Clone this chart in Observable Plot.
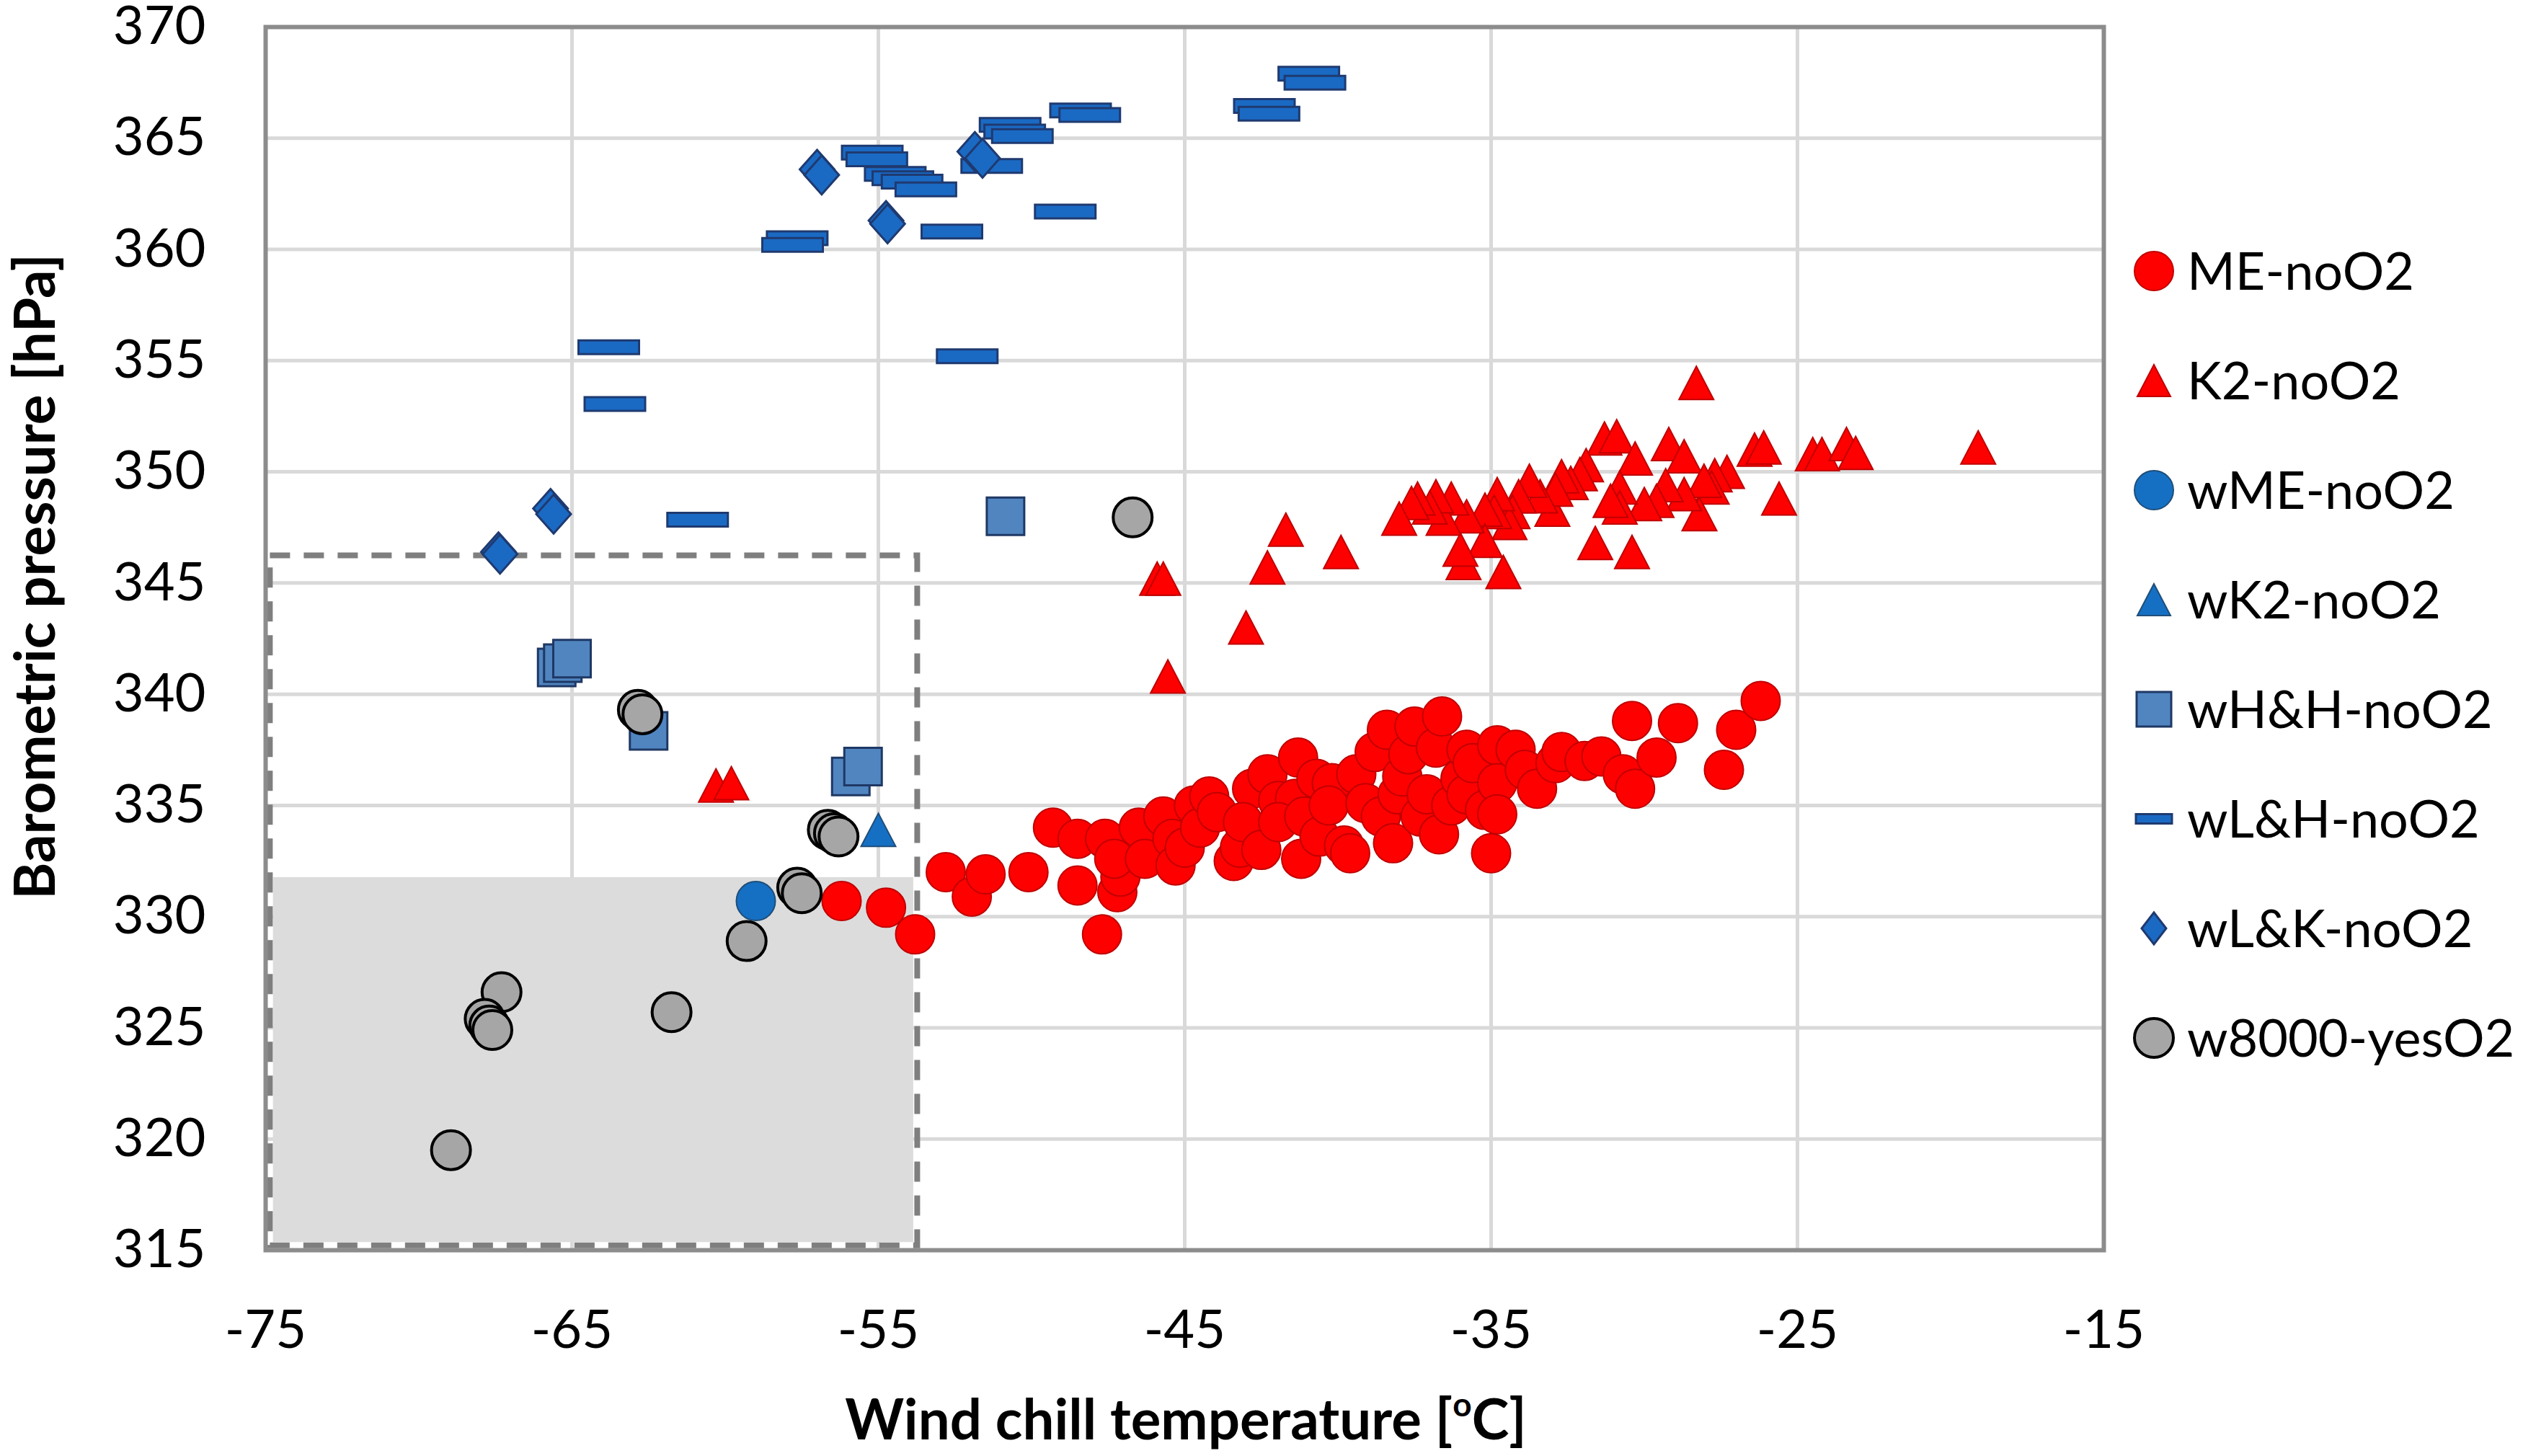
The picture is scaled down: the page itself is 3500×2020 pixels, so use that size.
<!DOCTYPE html>
<html>
<head>
<meta charset="utf-8">
<script src="https://cdn.jsdelivr.net/npm/d3@7"></script>
<script src="https://cdn.jsdelivr.net/npm/@observablehq/plot@0.6"></script>
<style>
  html, body { margin: 0; padding: 0; background: #fff; }
  svg { display: block; overflow: visible; }
</style>
</head>
<body>
<div id="chart"></div>
<script>
// ---------- data ----------
const xTicks = [-75, -65, -55, -45, -35, -25, -15];
const yTicks = [315, 320, 325, 330, 335, 340, 345, 350, 355, 360, 365, 370];
const seriesNames = ["ME-noO2", "K2-noO2", "wME-noO2", "wK2-noO2", "wH&H-noO2", "wL&H-noO2", "wL&K-noO2", "w8000-yesO2"];
const xTitle = "Wind chill temperature";
const yTitle = "Barometric pressure [hPa]";

// [wind chill °C, pressure hPa]
const ME_noO2 = [
  [-56.2,330.7],[-54.75,330.4],[-53.8,329.2],[-52.8,332.0],[-51.95,330.9],[-51.5,331.9],[-50.1,332.0],
  [-49.3,334.0],[-48.5,333.5],[-48.5,331.4],[-47.7,329.2],[-47.6,333.5],[-47.2,331.1],[-47.1,331.8],
  [-47.3,332.6],[-46.5,334.0],[-46.3,332.6],[-45.7,334.5],[-45.4,333.5],[-45.3,332.3],[-45.0,333.1],
  [-44.7,335.0],[-44.5,334.0],[-44.2,335.4],[-43.95,334.7],[-43.4,332.5],[-43.2,333.1],[-42.8,335.75],
  [-43.1,334.25],[-42.5,333.0],[-42.3,336.4],[-41.95,335.2],[-41.3,337.15],[-41.4,335.3],[-41.2,332.6],
  [-41.95,334.25],[-41.1,334.5],[-40.7,336.2],[-40.6,333.6],[-40.2,336.0],[-40.3,335.0],[-39.8,333.2],
  [-39.6,332.85],[-39.4,336.4],[-39.1,335.1],[-38.8,337.4],[-38.6,334.5],[-38.4,338.4],[-38.05,335.5],
  [-38.2,333.3],[-37.9,336.3],[-37.7,337.3],[-37.5,338.55],[-37.3,334.5],[-37.1,335.5],[-36.8,337.6],
  [-36.6,339.0],[-36.7,333.7],[-36.3,335.0],[-36.0,336.2],[-35.8,337.5],[-35.8,335.5],[-35.6,336.9],
  [-35.2,334.8],[-35.0,332.85],[-34.8,337.7],[-34.8,336.0],[-34.8,334.6],[-34.2,337.5],[-33.9,336.6],
  [-33.5,335.75],[-32.9,336.9],[-32.7,337.4],[-31.95,337.0],[-31.4,337.2],[-30.7,336.4],[-30.4,338.8],
  [-30.3,335.75],[-29.6,337.15],[-28.9,338.7],[-27.4,336.6],[-27.0,338.4],[-26.2,339.7]
];
const K2_noO2 = [
  [-28.3,354.0],[-31.3,351.5],[-30.9,351.6],[-29.2,351.25],[-28.7,350.7],[-26.4,351.0],[-26.1,351.1],
  [-24.5,350.8],[-24.2,350.8],[-23.4,351.25],[-23.1,350.85],[-19.1,351.1],[-25.6,348.8],[-27.3,350.0],
  [-27.7,349.85],[-27.8,349.3],[-28.2,348.1],[-28.05,349.6],[-28.7,349.0],[-29.3,349.4],[-29.6,348.7],
  [-30.0,348.55],[-30.3,350.6],[-30.8,349.3],[-30.8,348.4],[-31.6,346.8],[-30.4,346.4],[-31.1,348.7],
  [-31.9,350.3],[-32.1,349.9],[-32.4,349.5],[-32.7,349.8],[-33.0,348.3],[-32.9,349.2],[-33.4,348.9],
  [-33.75,349.6],[-34.1,348.9],[-34.3,348.2],[-34.4,347.7],[-34.6,345.5],[-34.8,349.0],[-34.9,348.2],
  [-35.2,348.3],[-35.2,346.9],[-35.9,345.9],[-36.0,346.5],[-35.8,348.0],[-36.3,348.8],[-36.55,347.9],
  [-36.8,348.9],[-37.0,348.4],[-37.4,348.8],[-37.6,348.6],[-38.0,347.9],[-41.7,347.4],[-39.9,346.4],
  [-42.3,345.7],[-45.9,345.2],[-45.7,345.2],[-43.0,343.0],[-45.55,340.8],[-60.3,335.9],[-59.8,336.0]
];
const wME_noO2 = [[-59.0,330.7]];
const wK2_noO2 = [[-55.0,333.9]];
const wHH_noO2 = [[-65.5,341.2],[-65.3,341.4],[-65.0,341.6],[-62.5,338.35],[-55.9,336.3],[-55.5,336.75],[-50.85,348.0]];
const wLH_noO2 = [
  [-40.95,367.9],[-40.75,367.5],[-42.4,366.45],[-42.25,366.1],[-48.4,366.25],[-48.1,366.05],
  [-50.7,365.6],[-50.55,365.3],[-50.3,365.1],[-51.3,363.75],[-55.2,364.35],[-55.05,364.05],
  [-54.45,363.4],[-54.2,363.2],[-53.9,363.05],[-53.45,362.7],[-48.9,361.7],[-52.6,360.8],
  [-57.65,360.5],[-57.8,360.2],[-52.1,355.2],[-63.8,355.6],[-63.6,353.05],[-60.9,347.85]
];
const wLK_noO2 = [[-57.0,363.6],[-56.85,363.35],[-54.75,361.3],[-54.7,361.15],[-51.85,364.4],[-51.6,364.1],[-65.7,348.35],[-65.6,348.1],[-67.4,346.4],[-67.35,346.3]];
const w8000_yesO2 = [
  [-62.85,339.3],[-62.7,339.1],[-56.65,333.9],[-56.45,333.75],[-56.3,333.6],[-57.65,331.3],[-57.5,331.05],
  [-59.3,328.9],[-67.3,326.6],[-67.85,325.4],[-67.7,325.1],[-67.6,324.9],[-61.75,325.7],[-68.95,319.5],[-46.7,347.95]
];
// highlighted zone (shaded) and dashed outline: [x1, x2, y1, y2]
const shadeBox = [[-74.75, -53.85, 315.35, 331.76]];
const dashBox = [[-74.85, -53.72, 315.2, 346.23]];

// ---------- symbols & styles ----------
const symCircle = r => ({draw(ctx) { ctx.moveTo(r, 0); ctx.arc(0, 0, r, 0, 2 * Math.PI); ctx.closePath(); }});
const symRect = (w, h) => ({draw(ctx) { ctx.moveTo(-w/2, -h/2); ctx.lineTo(w/2, -h/2); ctx.lineTo(w/2, h/2); ctx.lineTo(-w/2, h/2); ctx.closePath(); }});
const symTri = (w, h) => ({draw(ctx) { ctx.moveTo(0, -h/2); ctx.lineTo(w/2, h/2); ctx.lineTo(-w/2, h/2); ctx.closePath(); }});
const symDiamond = (w, h) => ({draw(ctx) { ctx.moveTo(0, -h/2); ctx.lineTo(w/2, 0); ctx.lineTo(0, h/2); ctx.lineTo(-w/2, 0); ctx.closePath(); }});

const seriesData = [ME_noO2, K2_noO2, wME_noO2, wK2_noO2, wHH_noO2, wLH_noO2, wLK_noO2, w8000_yesO2];
const styles = [
  {symbol: symCircle(27), legendSymbol: symCircle(27), fill: "#ff0000", stroke: "#c00000", sw: 2},
  {symbol: symTri(48, 46), legendSymbol: symTri(46, 44), fill: "#ff0000", stroke: "#c00000", sw: 2},
  {symbol: symCircle(27), legendSymbol: symCircle(27), fill: "#1570c4", stroke: "#1f4e79", sw: 2},
  {symbol: symTri(48, 46), legendSymbol: symTri(46, 44), fill: "#1570c4", stroke: "#1f4e79", sw: 2},
  {symbol: symRect(52, 52), legendSymbol: symRect(48, 48), fill: "#5085c0", stroke: "#1f3864", sw: 3},
  {symbol: symRect(84, 19), legendSymbol: symRect(50, 13), fill: "#1a6ac4", stroke: "#1f3a70", sw: 3},
  {symbol: symDiamond(48, 54), legendSymbol: symDiamond(34, 44), fill: "#1a6ac4", stroke: "#1f3a70", sw: 3},
  {symbol: symCircle(27), legendSymbol: symCircle(27), fill: "#a6a6a6", stroke: "#000000", sw: 4}
];

const dotMarks = seriesData.map((data, i) => Plot.dot(data, {
  x: d => d[0], y: d => d[1], r: 10,
  symbol: styles[i].symbol, fill: styles[i].fill, stroke: styles[i].stroke, strokeWidth: styles[i].sw
}));

const svg = Plot.plot({
  width: 3500, height: 2020,
  marginLeft: 368, marginRight: 582, marginTop: 37, marginBottom: 286,
  style: {fontFamily: "Lato", background: "#ffffff", color: "#000000", overflow: "visible"},
  x: {domain: [-75, -15], ticks: xTicks},
  y: {domain: [315, 370], ticks: yTicks},
  marks: [
    Plot.gridX(xTicks, {stroke: "#d9d9d9", strokeOpacity: 1, strokeWidth: 5}),
    Plot.gridY(yTicks, {stroke: "#d9d9d9", strokeOpacity: 1, strokeWidth: 5}),
    Plot.rect(shadeBox, {x1: d => d[0], x2: d => d[1], y1: d => d[2], y2: d => d[3], fill: "#dcdcdc"}),
    Plot.rect(dashBox, {x1: d => d[0], x2: d => d[1], y1: d => d[2], y2: d => d[3], fill: "none", stroke: "#7f7f7f", strokeWidth: 8, strokeDasharray: "28,19"}),
    Plot.frame({stroke: "#8c8c8c", strokeWidth: 6}),
    Plot.axisX(xTicks, {tickSize: 0, tickPadding: 83, fontSize: 74, label: null, tickFormat: d => String(d)}),
    Plot.axisY(yTicks, {tickSize: 0, tickPadding: 83, fontSize: 74, label: null, tickFormat: d => String(d)}),
    ...dotMarks
  ]
});

const root = d3.select(svg);

// x-axis title with superscript "o"
const xt = root.append("text")
  .attr("x", 1645).attr("y", 1997)
  .attr("text-anchor", "middle").attr("font-weight", "bold").attr("font-size", 78)
  .attr("fill", "#000");
xt.append("tspan").text(xTitle + " [");
xt.append("tspan").attr("font-size", 46).attr("dy", -32).text("o");
xt.append("tspan").attr("dy", 32).text("C]");

// y-axis title
root.append("text")
  .attr("transform", "translate(76,800) rotate(-90)")
  .attr("text-anchor", "middle").attr("font-weight", "bold").attr("font-size", 78)
  .attr("fill", "#000")
  .text(yTitle);

// legend
const lg = root.append("g").attr("text-anchor", "start");
seriesNames.forEach((name, i) => {
  const y = 376 + i * 152;
  lg.append("path")
    .attr("transform", `translate(2988,${y})`)
    .attr("d", d3.symbol(styles[i].legendSymbol)())
    .attr("fill", styles[i].fill).attr("stroke", styles[i].stroke).attr("stroke-width", styles[i].sw);
  lg.append("text")
    .attr("x", 3034).attr("y", y).attr("dy", "0.36em")
    .attr("text-anchor", "start")
    .attr("font-size", 72).attr("fill", "#000")
    .text(name);
});

document.getElementById("chart").appendChild(svg);
</script>
</body>
</html>
